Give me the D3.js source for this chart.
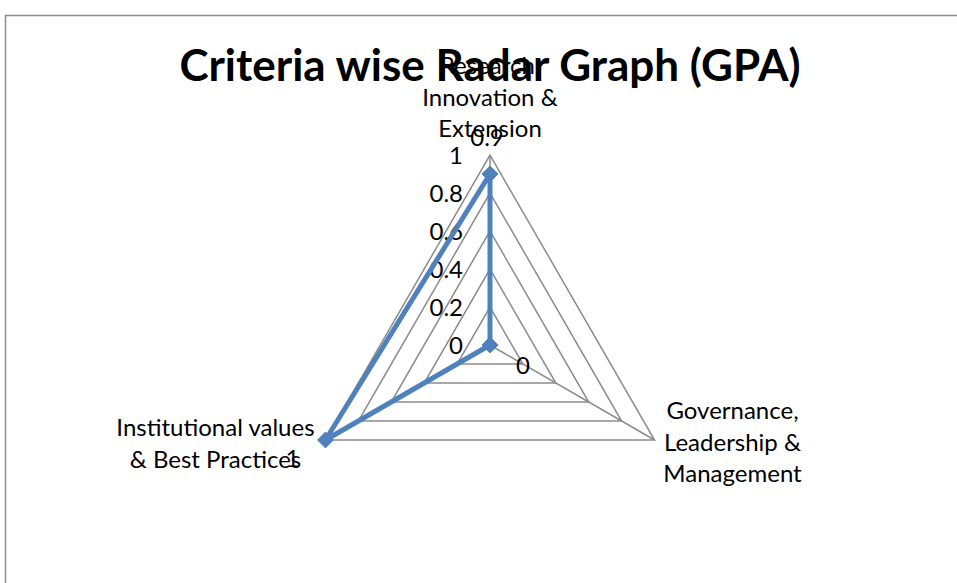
<!DOCTYPE html>
<html>
<head>
<meta charset="utf-8">
<script src="https://cdn.jsdelivr.net/npm/d3@7"></script>
<style>
  html, body { margin: 0; padding: 0; background: #fff; }
  svg { display: block; font-family: Lato, "Noto Sans", sans-serif; }
</style>
</head>
<body>
<div id="chart"></div>
<script>
// Chart data
const categories = [
    ["Research,", "Innovation &", "Extension"],
    ["Governance,", "Leadership &", "Management"],
    ["Institutional values", "& Best Practices"]
];
const gpaValues = [0.9, 0, 1];
const tickValues = [0, 0.2, 0.4, 0.6, 0.8, 1];
const titleText = "Criteria wise Radar Graph (GPA)";

const width = 957, height = 583;
const cx = 490, cy = 345;

const svg = d3.select("#chart").append("svg")
    .attr("width", width)
    .attr("height", height);

// Chart area border (continues past the right and bottom edges)
svg.append("path")
    .attr("d", "M 5.5 " + height + " V 15.5 H " + width)
    .attr("fill", "none")
    .attr("stroke", "#8c8c8c")
    .attr("stroke-width", 1.5);

// Radial scale
const r = d3.scaleLinear().domain([0, 1]).range([0, 190]);

const n = categories.length;
function angle(i) { return i * 2 * Math.PI / n; }
function point(i, v) {
    return [cx + r(v) * Math.sin(angle(i)), cy - r(v) * Math.cos(angle(i))];
}

const g = svg.append("g");

// Gridline rings (skip 0)
const ringLine = d3.line();
tickValues.filter(function (t) { return t > 0; }).forEach(function (t) {
    const pts = d3.range(n).map(function (i) { return point(i, t); });
    g.append("path")
        .attr("d", ringLine(pts) + "Z")
        .attr("fill", "none")
        .attr("stroke", "#8c8c8c")
        .attr("stroke-width", 1.5);
});

// Spokes
d3.range(n).forEach(function (i) {
    const p = point(i, 1);
    g.append("line")
        .attr("x1", cx).attr("y1", cy)
        .attr("x2", p[0]).attr("y2", p[1])
        .attr("stroke", "#8c8c8c")
        .attr("stroke-width", 1.5);
});

// Tick labels along the top axis
g.selectAll("text.tick")
    .data(tickValues)
    .enter().append("text")
    .attr("class", "tick")
    .attr("x", cx - 27)
    .attr("y", function (d) { return cy - r(d) + 9; })
    .attr("text-anchor", "end")
    .attr("font-size", 24)
    .attr("fill", "#000")
    .text(function (d) { return d3.format("")(d); });

// Category labels (baseline of first line relative to the outer vertex)
const labelPos = [
    { dx: 0, dy: -81 },
    { dx: 78, dy: -21 },
    { dx: -110, dy: -4 }
];
categories.forEach(function (lines, i) {
    const p = point(i, 1);
    const t = g.append("text")
        .attr("text-anchor", "middle")
        .attr("font-size", 24)
        .attr("fill", "#000");
    lines.forEach(function (line, k) {
        t.append("tspan")
            .attr("x", p[0] + labelPos[i].dx)
            .attr("y", p[1] + labelPos[i].dy + k * 31.5)
            .text(line);
    });
});

// Title
svg.append("text")
    .attr("x", 490)
    .attr("y", 81)
    .attr("text-anchor", "middle")
    .attr("font-size", 44)
    .attr("font-weight", "bold")
    .attr("fill", "#000")
    .text(titleText);

// Series line
const seriesPts = gpaValues.map(function (v, i) { return point(i, v); });
g.append("path")
    .attr("d", d3.line()(seriesPts) + "Z")
    .attr("fill", "none")
    .attr("stroke", "#4f81bd")
    .attr("stroke-width", 5)
    .attr("stroke-linejoin", "round");

// Diamond markers
g.selectAll("path.marker")
    .data(seriesPts)
    .enter().append("path")
    .attr("class", "marker")
    .attr("d", d3.symbol().type(d3.symbolDiamond2).size(160))
    .attr("transform", function (d) { return "translate(" + d[0] + "," + d[1] + ")"; })
    .attr("fill", "#4f81bd")
    .attr("stroke", "#4f81bd");

// Data labels (baseline offsets from each point)
const dataLabelOffset = [[-3, -28], [33, 29], [-33, 27]];
g.selectAll("text.value")
    .data(gpaValues)
    .enter().append("text")
    .attr("class", "value")
    .attr("x", function (d, i) { return seriesPts[i][0] + dataLabelOffset[i][0]; })
    .attr("y", function (d, i) { return seriesPts[i][1] + dataLabelOffset[i][1]; })
    .attr("text-anchor", "middle")
    .attr("font-size", 24)
    .attr("fill", "#000")
    .text(function (d) { return d3.format("")(d); });
</script>
</body>
</html>
